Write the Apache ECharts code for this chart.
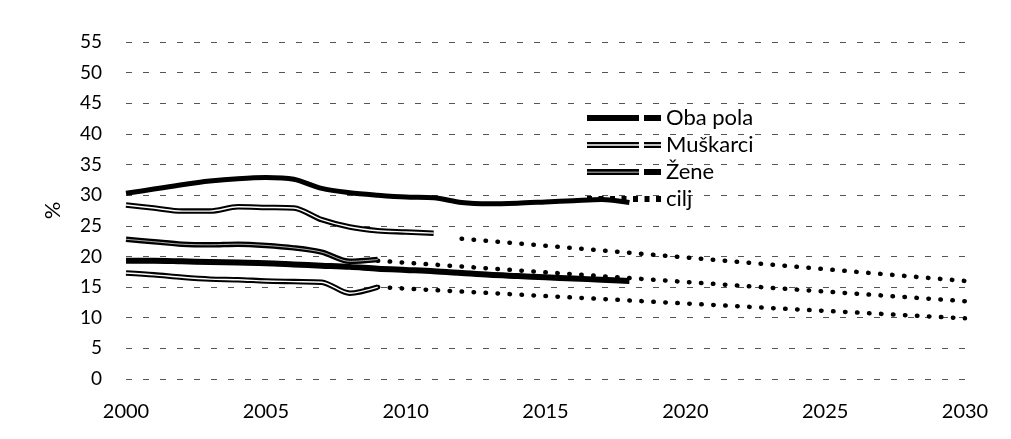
<!DOCTYPE html>
<html>
<head>
<meta charset="utf-8">
<script src="https://cdn.jsdelivr.net/npm/echarts@6/dist/echarts.min.js"></script>
<style>
html,body{margin:0;padding:0;background:#fff;}
#c{width:1011px;height:439px;}
</style>
</head>
<body>
<div id="c"></div>
<script>
// ---- data ----
const yTicks = [0,5,10,15,20,25,30,35,40,45,50,55];
const xTicks = [2000,2005,2010,2015,2020,2025,2030];

const yearsA = [2000,2001,2002,2003,2004,2005,2006,2007,2008,2009,2010,2011,2012,2013,2014,2015,2016,2017,2018];
const lineA  = [30.3,31.0,31.7,32.3,32.7,32.9,32.6,31.1,30.4,30.0,29.7,29.6,28.8,28.6,28.7,28.9,29.1,29.3,28.8];

const yearsB = [2000,2001,2002,2003,2004,2005,2006,2007,2008,2009,2010,2011];
const lineB  = [28.4,27.9,27.4,27.4,28.1,28.0,27.9,26.0,24.8,24.2,24.0,23.8];

const yearsC = [2000,2001,2002,2003,2004,2005,2006,2007,2008,2009];
const lineC  = [22.8,22.4,22.0,21.9,22.0,21.8,21.4,20.7,19.2,19.5];

const yearsD = [2000,2001,2002,2003,2004,2005,2006,2007,2008,2009,2010,2011,2012,2013,2014,2015,2016,2017,2018];
const lineD  = [19.3,19.3,19.2,19.1,19.0,18.9,18.7,18.5,18.3,18.0,17.8,17.6,17.3,17.0,16.8,16.6,16.4,16.2,16.0];

const yearsE = [2000,2001,2002,2003,2004,2005,2006,2007,2008,2009];
const lineE  = [17.3,17.0,16.6,16.3,16.2,16.0,15.9,15.8,14.0,15.0];

const targetTopYears = [2012,2030];
const targetTop      = [22.9,16.0];
const targetMidYears = [2009,2030];
const targetMid      = [19.3,12.7];
const targetLowYears = [2009,2030];
const targetLow      = [15.0,9.9];

const legendNames = ['Oba pola','Muškarci','Žene','cilj'];

// ---- build ----
function pairs(xs, ys){ return xs.map((x,i)=>[x, ys[i]]); }
const FONT = 'Lato, "Open Sans", sans-serif';

function solid(name, xs, ys, w, z){
  return {name, type:'line', data:pairs(xs,ys), symbol:'none', smooth:0.3, color:'#000',
    lineStyle:{color:'#000', width:w}, z:z||3, silent:true};
}
function overlay(xs, ys, w, z){
  return {name:'_ov', type:'line', data:pairs(xs,ys), symbol:'none', smooth:0.3, color:'#fff',
    lineStyle:{color:'#fff', width:w}, z:z||4, silent:true};
}
function dotted(xs, ys){
  return {name:'cilj', type:'line', data:pairs(xs,ys), symbol:'none', color:'#000',
    lineStyle:{color:'#000', width:4.5, type:[0.5,11.5], cap:'round'}, z:2, silent:true};
}

// legend icons (74 x 6 box)
let dots = '';
for (let i=0;i<7;i++){ const x = (i*69/6).toFixed(2); dots += 'M'+x+',0h5v6h-5Z '; }
const icons = {
  'Oba pola': 'path://M0,0H52V6H0Z M57,0H74V6H57Z',
  'Muškarci': 'path://M0,0H52V2.2H0Z M0,3.8H52V6H0Z M57,0H74V2.2H57Z M57,3.8H74V6H57Z',
  'Žene':     'path://M0,0H52V2.7H0Z M0,3.4H52V6H0Z M57,0H74V6H57Z',
  'cilj':     'path://' + dots
};

const chart = echarts.init(document.getElementById('c'), null, {renderer:'canvas'});
chart.setOption({
  animation:false,
  backgroundColor:'#fff',
  grid:{left:126, right:46, top:42, bottom:60, containLabel:false},
  xAxis:{
    type:'value', min:xTicks[0], max:xTicks[xTicks.length-1], interval:5,
    axisLine:{show:false}, axisTick:{show:false}, splitLine:{show:false},
    axisLabel:{color:'#000', fontSize:20, fontFamily:FONT, margin:23,
      formatter:v=>xTicks.indexOf(v)>=0 ? String(v) : ''}
  },
  yAxis:{
    type:'value', min:yTicks[0], max:yTicks[yTicks.length-1], interval:5,
    name:'%', nameLocation:'middle', nameGap:62, nameRotate:90,
    nameTextStyle:{color:'#000', fontSize:22, fontFamily:FONT},
    axisLine:{show:false}, axisTick:{show:false},
    axisLabel:{color:'#000', fontSize:19, fontFamily:FONT, margin:24},
    splitLine:{show:true, lineStyle:{color:'#555', width:1, type:[6,11]}}
  },
  legend:{
    orient:'vertical', left:582, top:102, itemWidth:74, itemHeight:6, itemGap:5,
    selectedMode:false,
    textStyle:{color:'#000', fontSize:22, fontFamily:FONT},
    itemStyle:{color:'#000', borderWidth:0},
    data:legendNames.map(n=>({name:n, icon:icons[n]}))
  },
  series:[
    dotted(targetTopYears, targetTop),
    dotted(targetMidYears, targetMid),
    dotted(targetLowYears, targetLow),
    solid('Oba pola', yearsD, lineD, 6),
    solid('Oba pola', yearsA, lineA, 5),
    solid('Muškarci', yearsB, lineB, 5.5),
    overlay(yearsB, lineB, 1.4),
    solid('Žene', yearsC, lineC, 5.5),
    overlay(yearsC, lineC, 0.7),
    solid('Muškarci', yearsE, lineE, 5.5),
    overlay(yearsE, lineE, 1.4)
  ]
});
</script>
</body>
</html>
